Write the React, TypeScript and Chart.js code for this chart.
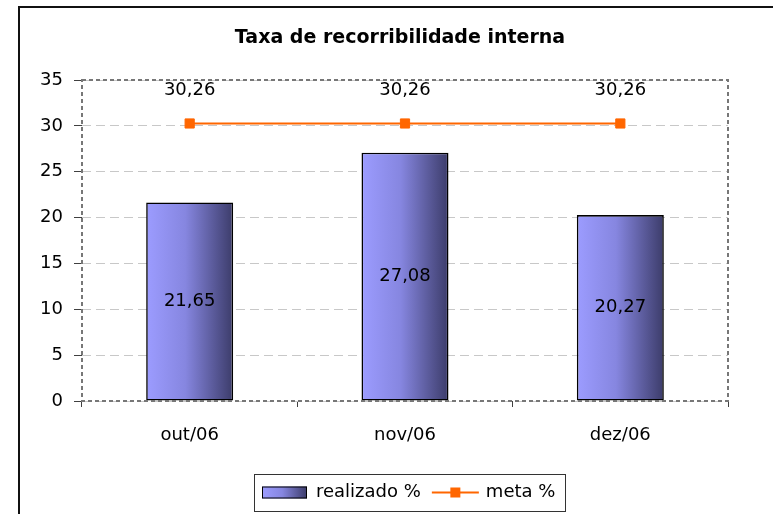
import React, { useEffect, useRef } from "react";
import { Chart, registerables } from "chart.js";

Chart.register(...registerables);

const categories = ["out/06", "nov/06", "dez/06"];
const realizado = [21.65, 27.08, 20.27];
const meta = [30.26, 30.26, 30.26];
const seriesNames = ["realizado %", "meta %"];
const titleText = "Taxa de recorribilidade interna";
const yMin = 0;
const yMax = 35;
const yStep = 5;

const FONT = '"DejaVu Sans", sans-serif';
const BAR_PCT = 0.404;
const ORANGE = "#ff6600";

const fmt = (v: number) => v.toFixed(2).replace(".", ",");

function barGradient(ctx: CanvasRenderingContext2D, x0: number, x1: number) {
  const g = ctx.createLinearGradient(x0, 0, x1, 0);
  g.addColorStop(0, "#9c9cff");
  g.addColorStop(0.45, "#8686e0");
  g.addColorStop(1, "#3c3c6a");
  return g;
}

const decor = {
  id: "decor",
  beforeDraw(chart: any) {
    const ctx = chart.ctx as CanvasRenderingContext2D;
    ctx.save();
    ctx.fillStyle = "#ffffff";
    ctx.fillRect(0, 0, chart.width, chart.height);
    ctx.fillStyle = "#111111";
    ctx.fillRect(18, 6, chart.width - 18, 2);
    ctx.fillRect(18, 6, 2, chart.height - 6);
    ctx.restore();
  },
  afterDatasetsDraw(chart: any) {
    const ctx = chart.ctx as CanvasRenderingContext2D;
    const a = chart.chartArea;
    ctx.save();
    ctx.setLineDash([4, 3]);
    ctx.strokeStyle = "#777777";
    ctx.lineWidth = 2;
    ctx.strokeRect(a.left, a.top, a.right - a.left, a.bottom - a.top);
    ctx.setLineDash([]);

    ctx.font = `18px ${FONT}`;
    ctx.fillStyle = "#000000";
    ctx.textAlign = "center";
    ctx.textBaseline = "middle";
    const barMeta = chart.getDatasetMeta(0);
    barMeta.data.forEach((el: any, i: number) => {
      ctx.fillText(fmt(realizado[i]), el.x, (el.y + el.base) / 2);
    });
    const lineMeta = chart.getDatasetMeta(1);
    lineMeta.data.forEach((el: any, i: number) => {
      ctx.fillText(fmt(meta[i]), el.x, el.y - 33);
    });
    ctx.restore();
  },
  afterDraw(chart: any) {
    const ctx = chart.ctx as CanvasRenderingContext2D;
    ctx.save();
    // title
    ctx.font = `bold 19px ${FONT}`;
    ctx.fillStyle = "#000000";
    ctx.textAlign = "center";
    ctx.textBaseline = "middle";
    ctx.fillText(titleText, 400, 38);

    // legend
    ctx.font = `18px ${FONT}`;
    const w1 = ctx.measureText(seriesNames[0]).width;
    const w2 = ctx.measureText(seriesNames[1]).width;
    const total = 8 + 45 + 9 + w1 + 11 + 47 + 7 + w2 + 10;
    const lx = Math.round(409.5 - total / 2);
    const ly = 474;
    const lh = 37;
    const cy = ly + lh / 2;
    ctx.strokeStyle = "#333333";
    ctx.lineWidth = 1;
    ctx.strokeRect(lx + 0.5, ly + 0.5, Math.round(total), lh);
    let x = lx + 8;
    ctx.fillStyle = barGradient(ctx, x, x + 45);
    ctx.fillRect(x, cy - 6, 45, 12);
    ctx.strokeStyle = "#000000";
    ctx.strokeRect(x + 0.5, cy - 6 + 0.5, 44, 11);
    x += 45 + 9;
    ctx.fillStyle = "#000000";
    ctx.textAlign = "left";
    ctx.fillText(seriesNames[0], x, cy);
    x += w1 + 11;
    ctx.strokeStyle = ORANGE;
    ctx.lineWidth = 2;
    ctx.beginPath();
    ctx.moveTo(x, cy);
    ctx.lineTo(x + 47, cy);
    ctx.stroke();
    ctx.fillStyle = ORANGE;
    ctx.fillRect(x + 23.5 - 5, cy - 5, 10, 10);
    x += 47 + 7;
    ctx.fillStyle = "#000000";
    ctx.fillText(seriesNames[1], x, cy);
    ctx.restore();
  },
};

export default function App() {
  const ref = useRef<HTMLCanvasElement | null>(null);

  useEffect(() => {
    if (!ref.current) return;
    const chart = new Chart(ref.current, {
      type: "bar",
      data: {
        labels: categories,
        datasets: [
          {
            type: "bar",
            label: seriesNames[0],
            data: realizado,
            order: 2,
            categoryPercentage: 1,
            barPercentage: BAR_PCT,
            borderColor: "#000000",
            borderWidth: 1.6,
            borderSkipped: false,
            backgroundColor: (c: any) => {
              const ch = c.chart;
              const xs = ch.scales && ch.scales.x;
              if (!xs || c.dataIndex == null || !ch.chartArea) return "#8888ee";
              const cx = xs.getPixelForValue(c.dataIndex);
              const hw = ((xs.width / categories.length) * BAR_PCT) / 2;
              return barGradient(ch.ctx, cx - hw, cx + hw);
            },
          },
          {
            type: "line",
            label: seriesNames[1],
            data: meta,
            order: 1,
            borderColor: ORANGE,
            borderWidth: 2,
            backgroundColor: ORANGE,
            pointStyle: "rect",
            pointRadius: 6.5,
            pointBackgroundColor: ORANGE,
            pointBorderColor: ORANGE,
            pointBorderWidth: 1,
            tension: 0,
            fill: false,
          },
        ],
      } as any,
      options: {
        responsive: false,
        animation: false,
        devicePixelRatio: 1,
        events: [],
        layout: { padding: { top: 80, left: 20, right: 45, bottom: 0 } },
        plugins: {
          legend: { display: false },
          title: { display: false },
          tooltip: { enabled: false },
        },
        scales: {
          x: {
            type: "category",
            offset: true,
            grid: {
              display: true,
              drawOnChartArea: false,
              drawTicks: true,
              tickLength: 6,
              tickColor: "#404040",
              tickWidth: 1,
              offset: true,
              tickBorderDash: [],
            },
            border: { display: false },
            ticks: {
              color: "#000000",
              font: { family: FONT, size: 18 },
              padding: 18,
              maxRotation: 0,
              autoSkip: false,
            },
            afterFit: (s: any) => {
              s.height = 113;
            },
          },
          y: {
            min: yMin,
            max: yMax,
            ticks: {
              stepSize: yStep,
              color: "#000000",
              font: { family: FONT, size: 18 },
              padding: 11,
            },
            grid: {
              color: "#c8c8c8",
              lineWidth: 1,
              drawTicks: true,
              tickLength: 8,
              tickColor: "#404040",
              tickWidth: 1,
              tickBorderDash: [],
            },
            border: { display: false, dash: [9, 5] },
            afterFit: (s: any) => {
              s.width = 62;
            },
          },
        },
      } as any,
      plugins: [decor],
    });
    return () => chart.destroy();
  }, []);

  return (
    <div
      style={{
        position: "fixed",
        left: 0,
        top: 0,
        width: 773,
        height: 514,
        background: "#ffffff",
      }}
    >
      <canvas ref={ref} width={773} height={514} style={{ display: "block" }} />
    </div>
  );
}
